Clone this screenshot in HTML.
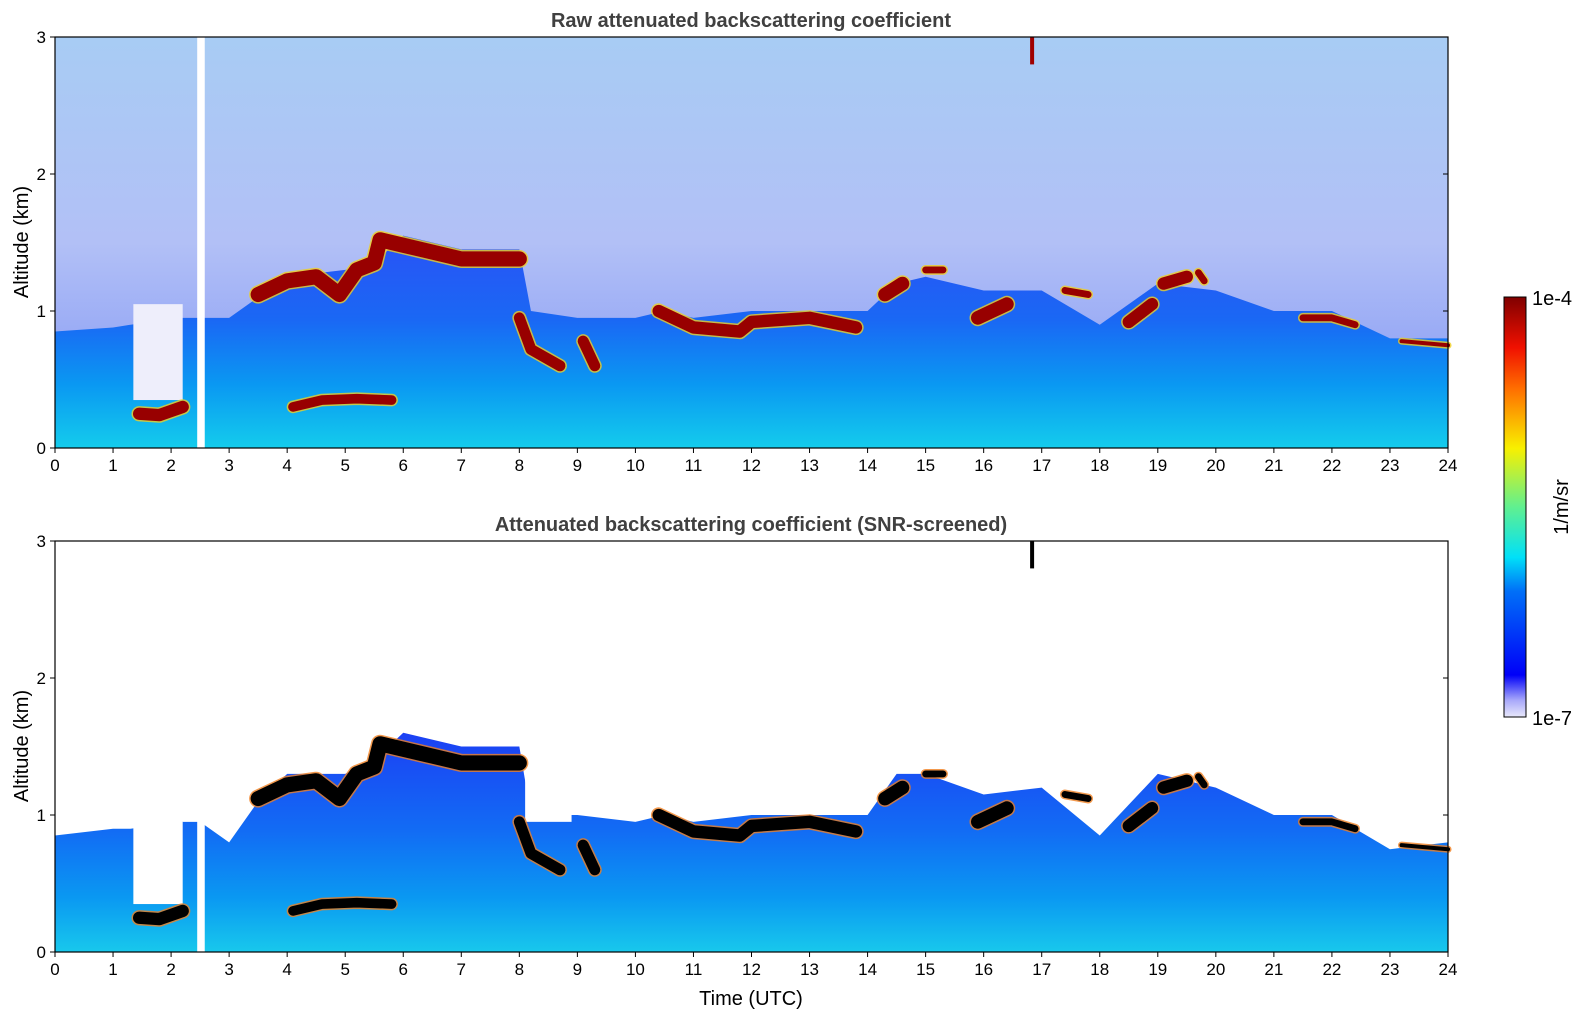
<!DOCTYPE html>
<html><head><meta charset="utf-8">
<style>
html,body{margin:0;padding:0;background:#fff;}
svg{display:block;font-family:"Liberation Sans","DejaVu Sans",sans-serif;}
</style></head>
<body>
<svg id="chart" width="1595" height="1020" viewBox="0 0 1595 1020" xmlns="http://www.w3.org/2000/svg">
<defs>
<linearGradient id="skyTop" x1="0" y1="0" x2="0" y2="1">
<stop offset="0" stop-color="#a8ccf4"/><stop offset="0.5" stop-color="#b2c0f6"/><stop offset="1" stop-color="#7d92f4"/>
</linearGradient>
<linearGradient id="blTop" x1="0" y1="0" x2="0" y2="1">
<stop offset="0" stop-color="#2a52f6"/><stop offset="0.4" stop-color="#1a68f4"/><stop offset="0.7" stop-color="#0a98f2"/><stop offset="1" stop-color="#14ccec"/>
</linearGradient>
<linearGradient id="blBot" x1="0" y1="0" x2="0" y2="1">
<stop offset="0" stop-color="#1c40f4"/><stop offset="0.45" stop-color="#126cf4"/><stop offset="0.75" stop-color="#0a98f2"/><stop offset="1" stop-color="#18c8ec"/>
</linearGradient>
<linearGradient id="cbar" x1="0" y1="1" x2="0" y2="0">
<stop offset="0" stop-color="#e8e8fa"/><stop offset="0.04" stop-color="#a8a8fa"/><stop offset="0.1" stop-color="#0000f8"/><stop offset="0.3" stop-color="#0070f8"/><stop offset="0.38" stop-color="#00e0f8"/><stop offset="0.5" stop-color="#60f090"/><stop offset="0.64" stop-color="#f8f000"/><stop offset="0.78" stop-color="#ff7000"/><stop offset="0.88" stop-color="#f01000"/><stop offset="1" stop-color="#800000"/>
</linearGradient>
</defs>
<g id="top"></g>
<g id="bot"></g>
<text x="751" y="27" font-size="20" font-weight="bold" fill="#404040" text-anchor="middle">Raw attenuated backscattering coefficient</text>
<text x="751" y="531" font-size="20" font-weight="bold" fill="#404040" text-anchor="middle">Attenuated backscattering coefficient (SNR-screened)</text>
<text x="751" y="1005" font-size="20" text-anchor="middle">Time (UTC)</text>
<text transform="translate(28,242) rotate(-90)" font-size="20" text-anchor="middle">Altitude (km)</text>
<text transform="translate(28,746) rotate(-90)" font-size="20" text-anchor="middle">Altitude (km)</text>
<rect x="1504" y="297" width="22" height="420" fill="url(#cbar)" stroke="#000" stroke-width="1"/>
<text x="1532" y="305" font-size="20">1e-4</text>
<text x="1532" y="725" font-size="20">1e-7</text>
<text transform="translate(1568,507) rotate(-90)" font-size="20" text-anchor="middle">1/m/sr</text>
</svg>
<script>
// boundary-layer top (km) at times
const blTimes=[0,1,1.3,2.2,2.5,3,3.5,4,5,5.5,6,7,8,8.2,9,10,10.5,11,12,13,14,14.5,15,16,17,18,19,20,21,22,23,24];
const blTopRaw=[0.85,0.88,0.9,0.95,0.95,0.95,1.1,1.25,1.3,1.35,1.55,1.45,1.45,1.0,0.95,0.95,1.0,0.95,1.0,1.0,1.0,1.2,1.25,1.15,1.15,0.9,1.2,1.15,1.0,1.0,0.8,0.8];
const blTopScr=[0.85,0.9,0.9,0.95,0.95,0.8,1.1,1.3,1.3,1.4,1.6,1.5,1.5,1.0,1.0,0.95,1.0,0.95,1.0,1.0,1.0,1.3,1.3,1.15,1.2,0.85,1.3,1.2,1.0,1.0,0.75,0.8];
// cloud layers: [time, altitude km]
const cloudSegs=[
 [[1.45,0.25],[1.8,0.24],[2.2,0.3]],
 [[3.5,1.12],[4.0,1.22],[4.5,1.25],[4.9,1.12],[5.2,1.3],[5.5,1.35],[5.6,1.52],[6.0,1.48],[6.5,1.43],[7.0,1.38],[8.0,1.38]],
 [[8.0,0.95],[8.2,0.72],[8.7,0.6]],
 [[9.1,0.78],[9.3,0.6]],
 [[10.4,1.0],[11.0,0.88],[11.8,0.85],[12.0,0.92],[13.0,0.95],[13.8,0.88]],
 [[14.3,1.12],[14.6,1.2]],[[15.0,1.3],[15.3,1.3]],
 [[15.9,0.95],[16.4,1.05]],[[17.4,1.15],[17.8,1.12]],
 [[18.5,0.92],[18.9,1.05]],[[19.1,1.2],[19.5,1.25]],[[19.7,1.28],[19.8,1.22]],
 [[21.5,0.95],[22.0,0.95],[22.4,0.9]],[[23.2,0.78],[24,0.75]],
 [[4.1,0.3],[4.6,0.35],[5.2,0.36],[5.8,0.35]]
];
const cloudThick=[0.09,0.11,0.08,0.08,0.09,0.1,0.05,0.1,0.05,0.09,0.09,0.05,0.05,0.03,0.07];
const xTicks=[0,1,2,3,4,5,6,7,8,9,10,11,12,13,14,15,16,17,18,19,20,21,22,23,24];
const yTicks=[0,1,2,3];
const NS='http://www.w3.org/2000/svg';
const X0=55,X1=1448;
function xs(t){return X0+(X1-X0)*t/24;}
function mk(p,tag,a){const e=document.createElementNS(NS,tag);for(const k in a)e.setAttribute(k,a[k]);p.appendChild(e);return e;}
function panel(g,Y0,Y1,raw){
 const ys=a=>Y1-(Y1-Y0)*a/3;
 const bl=raw?blTopRaw:blTopScr;
 if(raw){const s=mk(g,'rect',{x:X0,y:Y0,width:X1-X0,height:Y1-Y0,fill:'url(#skyTop)'});
  }
 let d='M'+xs(0)+','+ys(0);
 blTimes.forEach((t,i)=>{d+=' L'+xs(t)+','+ys(bl[i]);});
 d+=' L'+xs(24)+','+ys(0)+'Z';
 const a=mk(g,'path',{d:d,fill:raw?'url(#blTop)':'url(#blBot)'});
 
 const gp=mk(g,'rect',{x:xs(1.35),y:raw?ys(1.05):ys(0.95),width:xs(2.2)-xs(1.35),height:(raw?ys(0.35)-ys(1.05):ys(0.35)-ys(0.95)),fill:raw?'#eeeefb':'#fff'});
 
 if(!raw){const gp2=mk(g,'rect',{x:xs(8.1),y:ys(1.3),width:xs(8.9)-xs(8.1),height:ys(0.95)-ys(1.3),fill:'#fff'});
  }
 const wb=mk(g,'rect',{x:xs(2.45),y:Y0,width:xs(2.58)-xs(2.45),height:Y1-Y0,fill:'#fff'});
 
 cloudSegs.forEach((seg,i)=>{
  const pts=seg.map(p=>xs(p[0])+','+ys(p[1])).join(' ');
  const w=(Y1-Y0)*cloudThick[i]/3;
  const e1=mk(g,'polyline',{points:pts,fill:'none',stroke:raw?'#f0d020':'#f08020',"stroke-width":w+3,"stroke-linejoin":'round',"stroke-linecap":'round',opacity:0.8});
  
  const e2=mk(g,'polyline',{points:pts,fill:'none',stroke:raw?'#980000':'#000',"stroke-width":w,"stroke-linejoin":'round',"stroke-linecap":'round'});
  
 });
 const sp=mk(g,'rect',{x:xs(16.8),y:Y0,width:4,height:ys(2.8)-Y0,fill:raw?'#a00000':'#000'});
 
 const fr=mk(g,'rect',{x:X0,y:Y0,width:X1-X0,height:Y1-Y0,fill:'none',stroke:'#000',"stroke-width":1.2});
 
 xTicks.forEach(t=>{
  const l=mk(g,'line',{x1:xs(t),x2:xs(t),y1:Y1,y2:Y1+5,stroke:'#000'});
  
  const tx=mk(g,'text',{x:xs(t),y:Y1+23,"font-size":17,"text-anchor":'middle'});tx.textContent=t;
  
 });
 yTicks.forEach(v=>{
  const l=mk(g,'line',{x1:X0-5,x2:X0,y1:ys(v),y2:ys(v),stroke:'#000'});
  
  const l2=mk(g,'line',{x1:X1-5,x2:X1,y1:ys(v),y2:ys(v),stroke:'#000'});
  
  const tx=mk(g,'text',{x:X0-9,y:ys(v)+6,"font-size":17,"text-anchor":'end'});tx.textContent=v;
  
 });
}
panel(document.getElementById('top'),37,448,true);
panel(document.getElementById('bot'),541,952,false);
</script>
</body></html>
